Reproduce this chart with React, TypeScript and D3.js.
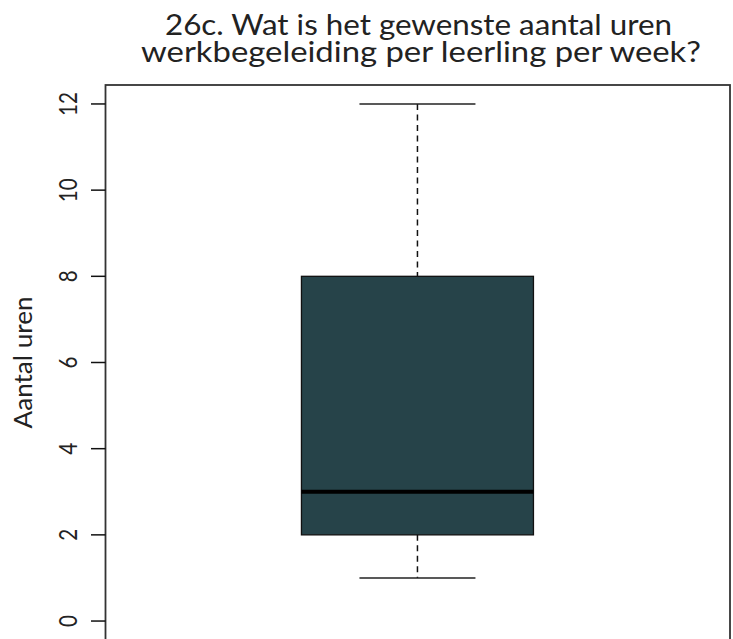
import React from "react";
import * as d3 from "d3";

const title = ["26c. Wat is het gewenste aantal uren", "werkbegeleiding per leerling per week?"];
const yLabel = "Aantal uren";
const yTicks = [0, 2, 4, 6, 8, 10, 12];
const stats = { min: 1, q1: 2, median: 3, q3: 8, max: 12 };
const categories = ["Aantal uren"];

export default function App() {
  const W = 733, H = 639;
  const left = 105.5, right = 730;
  const y = d3.scaleLinear().domain([-0.44, 12.44]).range([640, 85]);
  const x = d3.scaleBand().domain(categories).range([left, right]).paddingInner(0).paddingOuter(0);
  const cx = (x(categories[0]) as number) + x.bandwidth() / 2 - 0.3;
  const boxW = 232;
  const capW = 116;
  const font = "Lato, 'Noto Sans', sans-serif";
  const fill = "#264349";
  const titleLens = [507, 560];
  const titleX = [418.5, 421];
  return (
    <div style={{ position: "absolute", left: 0, top: 0 }}>
      <svg width={W} height={H} style={{ display: "block" }}>
        <rect width={W} height={H} fill="#ffffff" />
        {title.map((t, i) => (
          <text
            key={i}
            x={titleX[i] - titleLens[i] / 2}
            y={35 + i * 27}
            textLength={titleLens[i]}
            lengthAdjust="spacingAndGlyphs"
            fontFamily={font}
            fontSize={29}
            fill="#222"
          >
            {t}
          </text>
        ))}
        {/* plot frame */}
        <rect x={left} y={y(12.44)} width={right - left} height={y(-0.44) - y(12.44)} fill="none" stroke="#333" strokeWidth={1.8} />
        {/* y axis ticks */}
        {yTicks.map((t) => (
          <g key={t}>
            <line x1={91} x2={left} y1={y(t)} y2={y(t)} stroke="#111" strokeWidth={1.5} />
            <text
              transform={`translate(${77},${y(t)}) rotate(-90)`}
              textAnchor="middle"
              fontFamily={font}
              fontSize={25}
              textLength={String(t).length * 12}
              lengthAdjust="spacingAndGlyphs"
              fill="#222"
            >
              {t}
            </text>
          </g>
        ))}
        <text
          transform={`translate(32,${(y(12.44) + y(-0.44)) / 2}) rotate(-90)`}
          textAnchor="middle"
          fontFamily={font}
          fontSize={25}
          textLength={132}
          lengthAdjust="spacingAndGlyphs"
          fill="#222"
        >
          {yLabel}
        </text>
        {/* whiskers */}
        <line x1={cx} x2={cx} y1={y(stats.max)} y2={y(stats.q3)} stroke="#111" strokeWidth={1.5} strokeDasharray="6,4.5" />
        <line x1={cx} x2={cx} y1={y(stats.q1)} y2={y(stats.min)} stroke="#111" strokeWidth={1.5} strokeDasharray="6,4.5" />
        <line x1={cx - capW / 2} x2={cx + capW / 2} y1={y(stats.max)} y2={y(stats.max)} stroke="#222" strokeWidth={1.5} />
        <line x1={cx - capW / 2} x2={cx + capW / 2} y1={y(stats.min)} y2={y(stats.min)} stroke="#222" strokeWidth={1.5} />
        {/* box */}
        <rect x={cx - boxW / 2} y={y(stats.q3)} width={boxW} height={y(stats.q1) - y(stats.q3)} fill={fill} stroke="#111" strokeWidth={1.3} />
        <line x1={cx - boxW / 2} x2={cx + boxW / 2} y1={y(stats.median)} y2={y(stats.median)} stroke="#000" strokeWidth={4} />
      </svg>
    </div>
  );
}
